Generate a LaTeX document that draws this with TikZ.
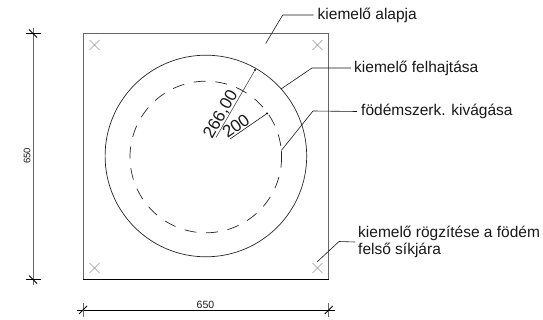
\documentclass[tikz,border=0pt]{standalone}
\usepackage{fontspec}
\setmainfont{Liberation Sans}
\usetikzlibrary{calc}
\tikzset{
  x=1pt,y=-1pt,
  greyline/.style={draw=black!60,line width=0.9pt},
  solidline/.style={draw=black!85,line width=0.7pt},
  thin leader/.style={draw=black!90,line width=0.6pt},
  crossmark/.style={draw=black!40,line width=0.6pt},
  lab/.style={inner sep=0pt,anchor=west,font=\fontsize{15.5}{17}\selectfont,align=left,text=black!90},
  dimlab/.style={inner sep=0pt,text=black!90},
  radlab/.style={inner sep=0pt,font=\fontsize{17}{18}\selectfont,text=black!90},
  dotpt/.style={circle,fill=black,inner sep=0pt,minimum size=2.4pt}
}
\begin{document}
\begin{tikzpicture}
\useasboundingbox (0,0) rectangle (543,320);
\fill[white] (0,0) rectangle (543,320);
% plate
\coordinate (TL) at (83,33.5);
\coordinate (TR) at (328.7,33.5);
\coordinate (BR) at (328.7,279.5);
\coordinate (BL) at (83,279.5);
\draw[greyline] (BL) -- (TL) -- (TR) -- (BR);
\draw[draw=black,line width=0.7pt] (BL) -- (BR);
% crosses
\foreach \cx/\cy in {94.5/45, 317.5/45, 94.5/268, 317.5/268}{
  \draw[crossmark] (\cx-5,\cy-5) -- (\cx+5,\cy+5) (\cx-5,\cy+5) -- (\cx+5,\cy-5);
}
% circles
\coordinate (C) at (205.9,156);
\draw[solidline] (C) circle[radius=100.8];
\foreach \k in {0,...,21}{
  \pgfmathsetmacro{\mid}{3.5+16.364*\k}
  \draw[solidline] plot[domain={\mid-4.5}:{\mid+4.5},samples=6,smooth,variable=\t] ({205.8+75.8*cos(\t)},{157+75.8*sin(\t)});
}
\draw[solidline] plot[domain=-5:0,samples=4,smooth,variable=\t] ({205.8+75.8*cos(\t)},{157+75.8*sin(\t)});
% left dimension
\coordinate (DL1) at (33,33.5);
\coordinate (DL2) at (33,279.5);
\draw[greyline] ($(DL1)+(0,-5)$) -- ($(DL2)+(0,5)$);
\draw[draw=black,line width=0.6pt] ($(DL1)+(-7.5,0)$) -- ($(DL1)+(7.5,0)$) ($(DL2)+(-7.5,0)$) -- ($(DL2)+(7.5,0)$);
\draw[draw=black,line width=0.9pt] ($(DL1)+(-4,-4)$) -- ($(DL1)+(4,4)$) ($(DL2)+(-4,-4)$) -- ($(DL2)+(4,4)$);
\node[dimlab,rotate=90,font=\fontsize{9.5}{10}\selectfont] (dimL) at (27,156) {650};
% bottom dimension
\coordinate (DB1) at (83,310);
\coordinate (DB2) at (328.7,310);
\draw[draw=black,line width=0.7pt] ($(DB1)+(-6,0)$) -- ($(DB2)+(6,0)$);
\draw[greyline] ($(DB1)+(0,-7)$) -- ($(DB1)+(0,7)$) ($(DB2)+(0,-7)$) -- ($(DB2)+(0,7)$);
\draw[draw=black,line width=0.9pt] ($(DB1)+(-4,4)$) -- ($(DB1)+(4,-4)$) ($(DB2)+(-4,4)$) -- ($(DB2)+(4,-4)$);
\node[dimlab,font=\fontsize{10.5}{11}\selectfont] (dimB) at (205.5,305.3) {650};
% radii
\coordinate (R1a) at (216,137.5);
\node[dotpt] (R1b) at (255,70) {};
\draw[thin leader,draw=black!70] (R1a) -- (R1b);
\coordinate (R2a) at (230,139);
\node[dotpt] (R2b) at (267,113.5) {};
\draw[thin leader] (R2a) -- (R2b);
\node[radlab,rotate=60] (t266) at (221,114.5) {266,00};
\node[radlab,rotate=35] (t200) at (236,126) {200};
% labels and leaders
\node[lab] (a) at (317.5,15) {kiemelő alapja};
\coordinate (aa) at (265.7,43.5);
\draw[thin leader] (aa) -- (282.7,15) -- ($(a.west)+(-4,0)$);
\node[lab] (b) at (354,68) {kiemelő felhajtása};
\coordinate (bb) at (281,89);
\draw[thin leader] (bb) -- (312,68) -- ($(b.west)+(-3,0)$);
\node[lab] (c) at (361,111.5) {födémszerk. kivágása};
\coordinate (cc) at (281.7,150);
\draw[thin leader] (cc) -- (313,111) -- ($(c.west)+(-4,0)$);
\node[lab] (d) at (358,242) {kiemelő rögzítése a födém\\felső síkjára};
\coordinate (dd) at (317,262);
\draw[thin leader] (dd) -- (339,241.5) -- ($(d.west)+(-3,0)$);
\end{tikzpicture}
\end{document}
